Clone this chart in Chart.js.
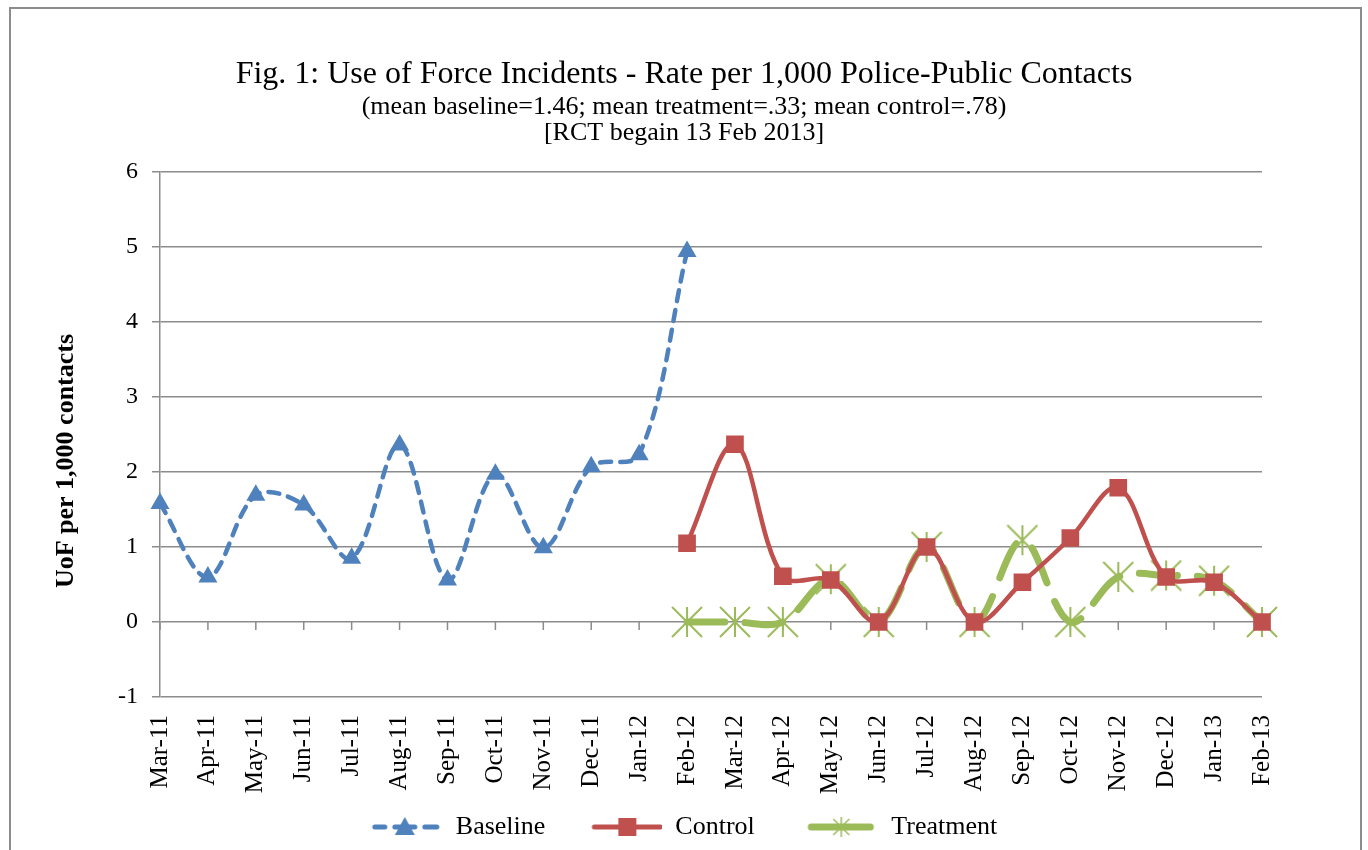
<!DOCTYPE html>
<html>
<head>
<meta charset="utf-8">
<script src="https://cdn.jsdelivr.net/npm/chart.js@4.4.1/dist/chart.umd.min.js"></script>
<style>
  body { margin: 0; background: #fff; }
  #wrap { position: relative; width: 1368px; height: 850px; }
  #frame { position: absolute; left: 9px; top: 7px; width: 1353px; height: 850px; border: 2px solid #8c8c8c; box-sizing: border-box; }
  canvas { position: absolute; left: 0; top: 0; }
</style>
</head>
<body>
<div id="wrap">
  <div id="frame"></div>
  <canvas id="chart" width="1368" height="850"></canvas>
</div>
<script>
const months = ["Mar-11","Apr-11","May-11","Jun-11","Jul-11","Aug-11","Sep-11","Oct-11","Nov-11","Dec-11","Jan-12",
  "Feb-12","Mar-12","Apr-12","May-12","Jun-12","Jul-12","Aug-12","Sep-12","Oct-12","Nov-12","Dec-12","Jan-13","Feb-13"];

const baseline = [1.58, 0.6, 1.69, 1.56, 0.85, 2.36, 0.56, 1.97, 0.99, 2.07, 2.23, 4.94,
  null, null, null, null, null, null, null, null, null, null, null, null];
const control = [null, null, null, null, null, null, null, null, null, null, null,
  1.05, 2.37, 0.61, 0.56, 0, 1.0, 0, 0.53, 1.12, 1.79, 0.6, 0.53, 0];
const treatment = [null, null, null, null, null, null, null, null, null, null, null,
  0, 0, 0, 0.57, 0, 1.0, 0, 1.09, 0, 0.6, 0.62, 0.55, 0];

const yTicks = [-1, 0, 1, 2, 3, 4, 5, 6];
const yTitle = "UoF per 1,000 contacts";

const BLUE = "#4F81BD", RED = "#C0504D", GREEN = "#9BBB59", GRID = "#8c8c8c";
const FONT = "'Liberation Serif', 'Times New Roman', serif";

// asterisk marker like the Excel one
function starMarker(size) {
  const c = document.createElement("canvas");
  c.width = size; c.height = size;
  const g = c.getContext("2d");
  g.strokeStyle = GREEN; g.lineWidth = 2;
  const m = 1, s = size - 1;
  g.beginPath();
  g.moveTo(m, m); g.lineTo(s, s);
  g.moveTo(s, m); g.lineTo(m, s);
  g.moveTo(size / 2, m); g.lineTo(size / 2, s);
  g.stroke();
  return c;
}
const star = starMarker(32);

const ICON_W = 72;
function legendIcon(kind) {
  const c = document.createElement("canvas");
  c.width = ICON_W; c.height = 28;
  const g = c.getContext("2d");
  const y = 14;
  g.lineCap = "round";
  if (kind === "baseline") {
    g.strokeStyle = BLUE; g.lineWidth = 5;
    g.beginPath(); g.moveTo(4, y); g.lineTo(14, y); g.moveTo(54, y); g.lineTo(66, y); g.stroke();
    g.beginPath(); g.moveTo(24, y); g.lineTo(44, y); g.stroke();
    g.fillStyle = BLUE;
    g.beginPath(); g.moveTo(34, y - 10); g.lineTo(44, y + 8); g.lineTo(24, y + 8); g.closePath(); g.fill();
  } else if (kind === "control") {
    g.strokeStyle = RED; g.lineWidth = 5;
    g.beginPath(); g.moveTo(4, y); g.lineTo(70, y); g.stroke();
    g.fillStyle = RED; g.fillRect(28, y - 9, 18, 18);
  } else {
    g.strokeStyle = GREEN; g.lineWidth = 7;
    g.beginPath(); g.moveTo(5, y); g.lineTo(64, y); g.stroke();
    g.lineWidth = 1.5; g.lineCap = "butt";
    g.beginPath();
    g.moveTo(27, y - 8); g.lineTo(43, y + 8);
    g.moveTo(43, y - 8); g.lineTo(27, y + 8);
    g.moveTo(35, y - 10); g.lineTo(35, y + 10);
    g.stroke();
  }
  return c;
}
const icons = { Baseline: legendIcon("baseline"), Control: legendIcon("control"), Treatment: legendIcon("treatment") };
// trailing spaces widen the gap to the next legend item without making the legend taller
const legendGap = { Baseline: 6, Control: 7, Treatment: 0 };

// small tick marks on the zero line (category axis crosses at 0) and the y-axis title
const axisExtras = {
  id: "axisExtras",
  beforeDatasetsDraw(chart) {
    const { ctx, scales: { x, y } } = chart;
    const y0 = y.getPixelForValue(0);
    ctx.save();
    ctx.strokeStyle = GRID; ctx.lineWidth = 1.5;
    ctx.beginPath();
    months.forEach((m, i) => {
      const px = x.getPixelForValue(i);
      ctx.moveTo(px, y0); ctx.lineTo(px, y0 + 8);
    });
    ctx.stroke();
    ctx.translate(66, 461);
    ctx.rotate(-Math.PI / 2);
    ctx.fillStyle = "#000";
    ctx.font = "bold 26px " + FONT;
    ctx.textAlign = "center";
    ctx.textBaseline = "middle";
    ctx.fillText(yTitle, 0, 0);
    ctx.restore();
  }
};

new Chart(document.getElementById("chart"), {
  type: "line",
  data: {
    labels: months,
    datasets: [
      { label: "Baseline", data: baseline, borderColor: BLUE, backgroundColor: BLUE, borderWidth: 4.5,
        borderDash: [11, 9], borderCapStyle: "round", tension: 0.35, pointStyle: "triangle", pointRadius: 11,
        pointBorderWidth: 0, pointHoverRadius: 11 },
      { label: "Control", data: control, borderColor: RED, backgroundColor: RED, borderWidth: 4.5,
        tension: 0.35, pointStyle: "rect", pointRadius: 12.5, pointBorderWidth: 0, pointHoverRadius: 12.5 },
      { label: "Treatment", data: treatment, borderColor: GREEN, backgroundColor: GREEN, borderWidth: 7,
        borderDash: [38, 20], borderCapStyle: "round", tension: 0.35, pointStyle: star, pointRadius: 16 }
    ]
  },
  options: {
    responsive: false,
    animation: false,
    layout: { padding: { left: 0, right: 0, top: 0, bottom: 0 } },
    scales: {
      x: {
        offset: false,
        grid: { display: false },
        border: { display: false },
        ticks: { color: "#000", font: { family: FONT, size: 25 }, minRotation: 90, maxRotation: 90, padding: 10, autoSkip: false },
        afterFit(scale) { scale.height = 111; }
      },
      y: {
        min: -1, max: 6,
        afterBuildTicks(scale) { scale.ticks = yTicks.map(v => ({ value: v })); },
        grid: { color: GRID, lineWidth: 1.5, tickLength: 8 },
        border: { color: GRID, width: 1.5 },
        ticks: { color: "#000", font: { family: FONT, size: 24 }, padding: 14 },
        afterFit(scale) { scale.width = 160; }
      },
      // empty right-hand axis that only reserves the space right of the plot
      yr: {
        position: "right", min: -1, max: 6,
        grid: { display: false }, border: { display: false }, ticks: { display: false },
        afterFit(scale) { scale.width = 106; }
      }
    },
    plugins: {
      title: { display: true, text: "Fig. 1: Use of Force Incidents - Rate per 1,000 Police-Public Contacts",
        color: "#000", font: { family: FONT, size: 32, weight: "normal" }, padding: { top: 55, bottom: 0 } },
      subtitle: { display: true, text: ["(mean baseline=1.46; mean treatment=.33; mean control=.78)", "[RCT begain 13 Feb 2013]"],
        color: "#000", font: { family: FONT, size: 26, lineHeight: 1 }, padding: { top: 1, bottom: 25.6 } },
      legend: {
        position: "bottom",
        labels: {
          color: "#000", font: { family: FONT, size: 26 }, usePointStyle: true, pointStyleWidth: ICON_W, boxHeight: 26, padding: 6,
          generateLabels(chart) {
            return chart.data.datasets.map((ds, i) => ({
              text: ds.label + " ".repeat(legendGap[ds.label]), pointStyle: icons[ds.label],
              fillStyle: ds.borderColor, strokeStyle: ds.borderColor,
              lineWidth: 0, hidden: false, datasetIndex: i, fontColor: "#000"
            }));
          }
        }
      },
      tooltip: { enabled: false }
    }
  },
  plugins: [axisExtras]
});
</script>
</body>
</html>
